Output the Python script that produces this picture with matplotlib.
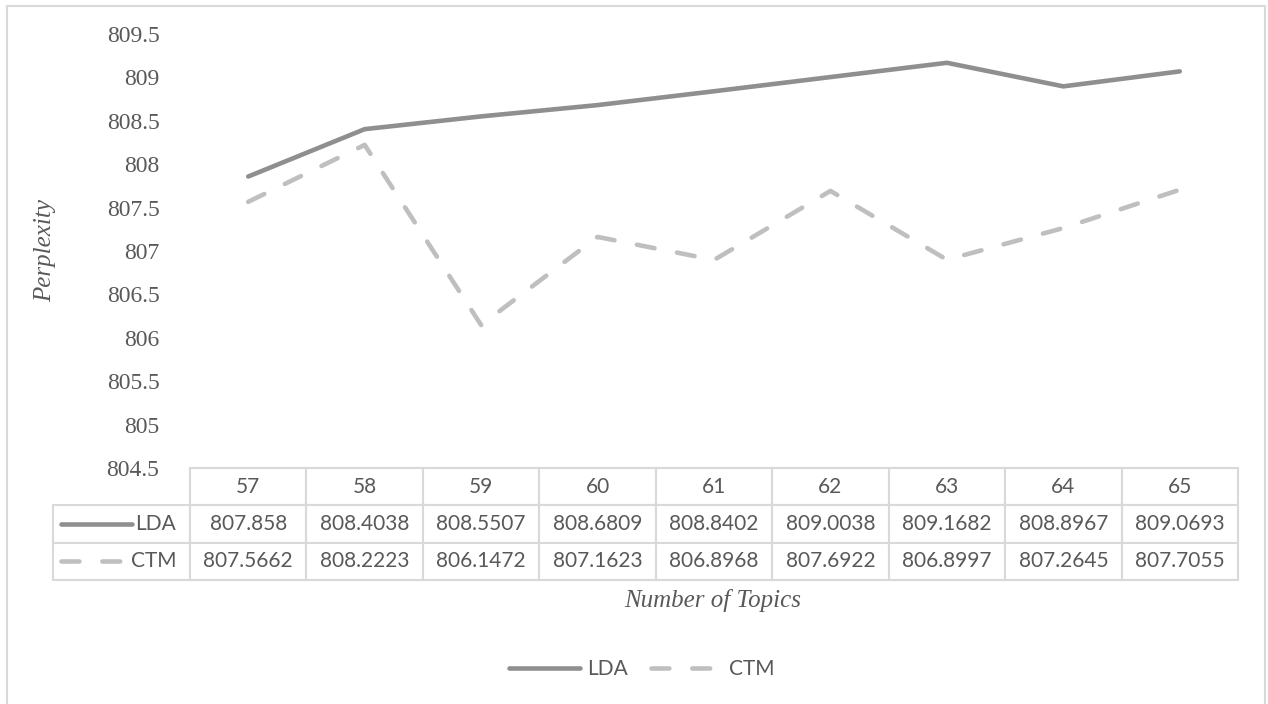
import matplotlib
matplotlib.use("Agg")
import matplotlib.pyplot as plt
from matplotlib.table import Table
from matplotlib.lines import Line2D
from matplotlib.patches import Rectangle
from matplotlib.font_manager import FontProperties

# --- Data ---
topics = [57, 58, 59, 60, 61, 62, 63, 64, 65]
lda = [807.858, 808.4038, 808.5507, 808.6809, 808.8402, 809.0038, 809.1682, 808.8967, 809.0693]
ctm = [807.5662, 808.2223, 806.1472, 807.1623, 806.8968, 807.6922, 806.8997, 807.2645, 807.7055]
series_names = ["LDA", "CTM"]
y_ticks = [804.5, 805, 805.5, 806, 806.5, 807, 807.5, 808, 808.5, 809, 809.5]

# --- Style ---
W, H = 1268, 704
LDA_COLOR = "#8f8f8f"
CTM_COLOR = "#bfbfbf"
TEXT_COLOR = "#595959"
GRID_COLOR = "#d9d9d9"
LW = 3.3
SERIF = "Liberation Serif"
SANS = "Lato"

plt.rcParams["font.family"] = [SERIF, "DejaVu Serif"]

# plot area in pixels: left, right, top, bottom
PL, PR, PT, PB = 190, 1238, 34, 468
LABEL_LEFT = 53
TABLE_BOTTOM = 580

fig = plt.figure(figsize=(W / 100, H / 100), dpi=100)
ax = fig.add_axes([PL / W, 1 - PB / H, (PR - PL) / W, (PB - PT) / H])

x = list(range(len(topics)))
line_styles = {
    "LDA": dict(color=LDA_COLOR, lw=LW, solid_capstyle="round", solid_joinstyle="miter"),
    "CTM": dict(color=CTM_COLOR, lw=LW, dashes=(3.9, 5.0), dash_capstyle="round"),
}
l1, = ax.plot(x, lda, label="LDA", **line_styles["LDA"])
l2, = ax.plot(x, ctm, label="CTM", **line_styles["CTM"])

ax.set_xlim(-0.5, len(topics) - 0.5)
ax.set_ylim(y_ticks[0], y_ticks[-1])
ax.set_yticks(y_ticks, [f"{v:g}" for v in y_ticks])
ax.tick_params(axis="y", length=0, pad=22)
tick_font = FontProperties(family=SERIF, size=17)
for lab in ax.get_yticklabels():
    lab.set_fontproperties(tick_font)
    lab.set_color(TEXT_COLOR)
ax.set_xticks([])
for s in ax.spines.values():
    s.set_visible(False)

# --- Data table under the plot ---
ax_w = PR - PL
ax_h = PB - PT
label_w = (PL - LABEL_LEFT) / ax_w
col_w = 1.0 / len(topics)
row_h = (TABLE_BOTTOM - PB) / ax_h / 3
tbl = Table(ax, bbox=[-label_w, -(TABLE_BOTTOM - PB) / ax_h, 1 + label_w, (TABLE_BOTTOM - PB) / ax_h])
tbl.auto_set_font_size(False)

rows = [[str(t) for t in topics],
        [str(v) for v in lda],
        [str(v) for v in ctm]]
row_labels = [None] + series_names
for r, vals in enumerate(rows):
    if row_labels[r] is not None:
        c = tbl.add_cell(r, 0, width=label_w, height=row_h, text=row_labels[r], loc="right")
        c.set_edgecolor(GRID_COLOR)
        c.set_linewidth(1.5)
        c.get_text().set_fontfamily(SANS)
        c.get_text().set_fontsize(15)
        c.get_text().set_color(TEXT_COLOR)
    for j, v in enumerate(vals):
        c = tbl.add_cell(r, j + 1, width=col_w, height=row_h, text=v, loc="center")
        c.set_edgecolor(GRID_COLOR)
        c.set_linewidth(1.5)
        c.get_text().set_fontfamily(SANS)
        c.get_text().set_fontsize(15)
        c.get_text().set_color(TEXT_COLOR)
ax.add_table(tbl)

# legend keys inside the row label cells
key_x0 = (61 - PL) / ax_w
key_x1 = (132 - PL) / ax_w
for i, name in enumerate(series_names):
    yc = -(i + 1.5) * row_h
    key = Line2D([key_x0, key_x1], [yc, yc], transform=ax.transAxes, clip_on=False,
                 **line_styles[name])
    ax.add_line(key)

# --- Axis titles ---
fig.text(45 / W, 1 - 250 / H, "Perplexity", rotation=90, ha="center", va="center",
         fontstyle="italic", fontsize=18, color=TEXT_COLOR)
fig.text(713 / W, 1 - 600 / H, "Number of Topics", ha="center", va="center",
         fontstyle="italic", fontsize=18, color=TEXT_COLOR)

# --- Legend ---
leg = fig.legend([l1, l2], series_names, loc="center", bbox_to_anchor=(642 / W, 1 - 669 / H),
                 ncol=2, frameon=False, handlelength=3.4, handletextpad=0.35,
                 columnspacing=1.1, prop=dict(family=SANS, size=15))
for t in leg.get_texts():
    t.set_color(TEXT_COLOR)

# chart border
fig.patches.append(Rectangle((7 / W, -0.02), (1265 - 7) / W, 1 - 6 / H + 0.02,
                             transform=fig.transFigure, fill=False,
                             edgecolor=GRID_COLOR, lw=1.5))

fig.savefig("out.png", dpi=100)
